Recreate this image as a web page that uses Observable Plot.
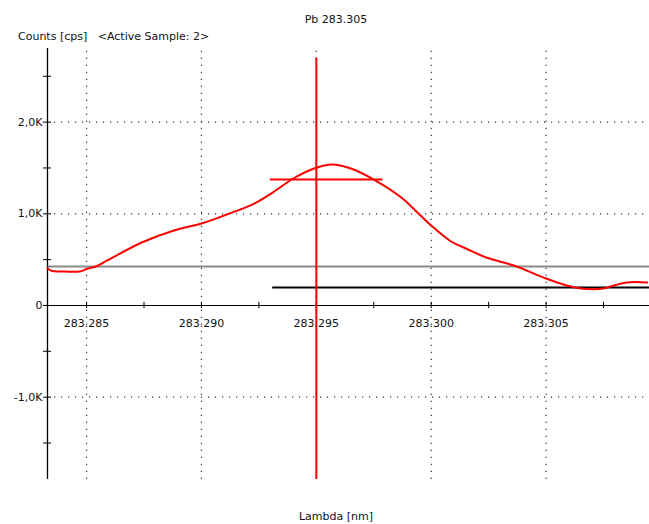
<!DOCTYPE html>
<html>
<head>
<meta charset="utf-8">
<script src="https://cdn.jsdelivr.net/npm/d3@7"></script>
<script src="https://cdn.jsdelivr.net/npm/@observablehq/plot@0.6"></script>
<style>
  html, body { margin: 0; padding: 0; background: #fff; }
  #wrap { position: relative; width: 649px; height: 524px; font-family: "DejaVu Sans", sans-serif; color: #111; }
  .lbl { position: absolute; font-size: 11px; white-space: pre; line-height: 1; }
</style>
</head>
<body>
<div id="wrap">
  <div class="lbl" id="title" style="left:0;width:672px;text-align:center;top:14px;">Pb 283.305</div>
  <div class="lbl" style="left:18px;top:31px;">Counts [cps]   &lt;Active Sample: 2&gt;</div>
  <div class="lbl" style="left:0;width:672px;text-align:center;top:511px;">Lambda [nm]</div>
</div>
<script>
// Spectrum (wavelength in nm, counts in cps)
const lambda = [283.2833, 283.2835, 283.2839, 283.2847, 283.2850, 283.2854, 283.2859, 283.2874, 283.2888, 283.2900,
  283.2911, 283.2923, 283.2931, 283.2940, 283.2949, 283.2957, 283.2965, 283.2975, 283.2987, 283.2994,
  283.3000, 283.3008, 283.3016, 283.3024, 283.3036, 283.3050, 283.3059, 283.3065, 283.3075, 283.3078,
  283.3085, 283.3094];
const counts = [403, 376, 371, 371, 398, 425, 491, 687, 818, 894,
  992, 1112, 1232, 1385, 1494, 1538, 1494, 1374, 1178, 1014,
  872, 709, 611, 523, 436, 294, 218, 185, 185, 207,
  251, 251];

// Axes
const xMajor = [283.285, 283.290, 283.295, 283.300, 283.305];
const xMajorLabels = ["283.285", "283.290", "283.295", "283.300", "283.305"];
const xMinor = [283.2875, 283.2925, 283.2975, 283.3025, 283.3075];
const yMajor = [-1000, 0, 1000, 2000];
const yMajorLabels = ["-1,0K", "0", "1,0K", "2,0K"];
const yMinor = [-1500, -500, 500, 1500, 2500];
const yGrid = [-1000, 1000, 2000];
const xDomain = [283.2833, 283.3095];
const yDomain = [-1898, 2803];

// Evaluation markers
const peakLambda = [283.295];
const peakTop = 2700;
const halfHeight = [1374];
const halfFrom = 283.2930, halfTo = 283.2979;
const baseline = [425];
const background = [195];
const backgroundFrom = 283.2931;

const spectrum = lambda.map((l, i) => ({l, c: counts[i]}));
const allXTicks = xMajor.concat(xMinor);
const allYTicks = yMajor.concat(yMinor);
const xLabels = xMajor.map((v, i) => ({v, t: xMajorLabels[i]}));
const yLabels = yMajor.map((v, i) => ({v, t: yMajorLabels[i]}));
const dx = 0.000174; // y tick half length in x units
const dy = 35; // x tick half length in y units

const chart = Plot.plot({
  width: 649, height: 524,
  marginLeft: 47, marginRight: 0, marginTop: 48, marginBottom: 45,
  x: {domain: xDomain, axis: null},
  y: {domain: yDomain, axis: null},
  style: {fontFamily: "DejaVu Sans, sans-serif", fontSize: "11px", background: "transparent", overflow: "visible"},
  marks: [
    Plot.ruleX(xMajor, {y1: yDomain[0], y2: 2830, stroke: "#333", strokeWidth: 1.2, strokeDasharray: "1.2,5.8"}),
    Plot.ruleY(yGrid, {stroke: "#333", strokeWidth: 1.2, strokeDasharray: "1.2,5.8"}),
    Plot.ruleY(baseline, {stroke: "#8a8a8a", strokeWidth: 2}),
    Plot.ruleY(background, {x1: backgroundFrom, x2: xDomain[1], stroke: "#000", strokeWidth: 2}),
    Plot.ruleX([xDomain[0]], {stroke: "#000", strokeWidth: 1.3}),
    Plot.ruleY([0], {stroke: "#000", strokeWidth: 1}),
    Plot.ruleX(allXTicks, {y1: -dy, y2: dy, stroke: "#000", strokeWidth: 1}),
    Plot.ruleY(allYTicks, {x1: xDomain[0] - dx, x2: xDomain[0] + dx, stroke: "#000", strokeWidth: 1}),
    Plot.line(spectrum, {x: "l", y: "c", stroke: "#ff0000", strokeWidth: 2, curve: "catmull-rom"}),
    Plot.ruleX(peakLambda, {y1: yDomain[0], y2: peakTop, stroke: "#ff0000", strokeWidth: 2}),
    Plot.ruleY(halfHeight, {x1: halfFrom, x2: halfTo, stroke: "#ff0000", strokeWidth: 2}),
    Plot.text(xLabels, {x: "v", y: 0, text: "t", dy: 18, fill: "#111", fontSize: 11}),
    Plot.text(yLabels, {x: xDomain[0], y: "v", text: "t", dx: -5, textAnchor: "end", fill: "#111", fontSize: 11})
  ]
});
chart.style.position = "absolute";
chart.style.left = "0px";
chart.style.top = "0px";
document.getElementById("wrap").appendChild(chart);
</script>
</body>
</html>
